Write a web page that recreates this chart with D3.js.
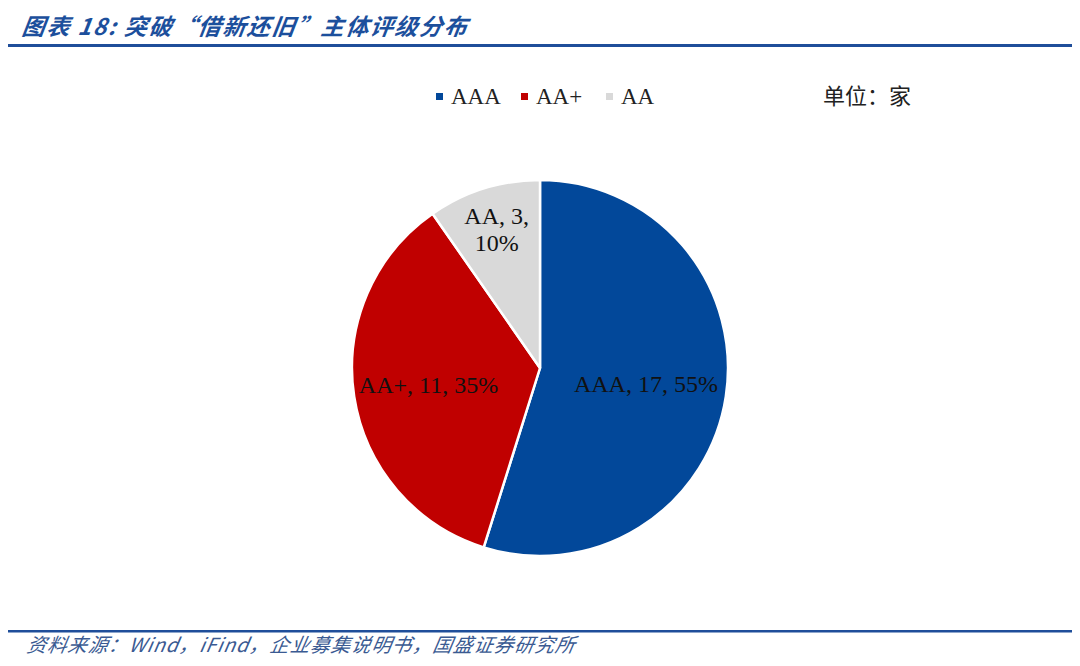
<!DOCTYPE html>
<html><head><meta charset="utf-8">
<script src="https://cdn.jsdelivr.net/npm/d3@7"></script>
<style>body{margin:0;background:#fff}svg{display:block}</style>
</head><body>
<svg id="c" width="1080" height="666"></svg>
<script>
const categories = ["AAA", "AA+", "AA"];
const values = [17, 11, 3];
const percentLabels = ["55%", "35%", "10%"];
const colors = ["#02489a", "#c00000", "#d9d9d9"];
const titleText = "图表 18:  突破“借新还旧”主体评级分布";
const unitText = "单位：家";
const sourceText = "资料来源：Wind，iFind，企业募集说明书，国盛证券研究所";

const svg = d3.select("#c");
const blue = "#1c4f9c";
const serif = "'Liberation Serif','Times New Roman','Noto Serif CJK SC','Noto Sans CJK SC',serif";

// title
svg.append("text").attr("x", 22).attr("y", 35)
  .attr("font-family", "'Noto Sans CJK SC',sans-serif").attr("font-size", 23)
  .attr("letter-spacing", 1.6)
  .attr("font-weight", "bold").attr("font-style", "italic").attr("fill", blue)
  .attr("transform", "skewX(-8) translate(4,0)")
  .text(titleText);
svg.append("rect").attr("x", 8).attr("y", 44).attr("width", 1064).attr("height", 3).attr("fill", "#1f4e9a");

// footer
svg.append("rect").attr("x", 8).attr("y", 630).attr("width", 1064).attr("height", 2.5).attr("fill", "#1f4e9a");
svg.append("text").attr("x", 26).attr("y", 652)
  .attr("font-family", "'Noto Sans CJK SC',sans-serif").attr("font-size", 19.5)
  .attr("letter-spacing", 0.9)
  .attr("font-style", "italic").attr("fill", "#3a5a92")
  .attr("transform", "skewX(-10) translate(115,0)")
  .text(sourceText);

// legend
const legendX = [436, 521, 606];
const lg = svg.append("g");
categories.forEach((c, i) => {
  lg.append("rect").attr("x", legendX[i]).attr("y", 93).attr("width", 7).attr("height", 7).attr("fill", colors[i]);
  lg.append("text").attr("x", legendX[i] + 15).attr("y", 104)
    .attr("font-family", serif).attr("font-size", 23).attr("fill", "#222").text(c);
});
svg.append("text").attr("x", 823).attr("y", 104)
  .attr("font-family", "'Noto Sans CJK SC',serif").attr("font-size", 22).attr("fill", "#222").text(unitText);

// pie
const cx = 540, cy = 368, R = 188;
const pie = d3.pie().sort(null).startAngle(0).endAngle(2 * Math.PI);
const arcs = pie(values);
const arc = d3.arc().innerRadius(0).outerRadius(R);
const g = svg.append("g").attr("transform", `translate(${cx},${cy})`);
g.selectAll("path").data(arcs).enter().append("path")
  .attr("d", arc).attr("fill", (d, i) => colors[i])
  .attr("stroke", "#fff").attr("stroke-width", 2.5).attr("stroke-linejoin", "round");

const labelR = [0.57, 0.60, 0.77];
arcs.forEach((d, i) => {
  const a = (d.startAngle + d.endAngle) / 2;
  const r = R * labelR[i];
  const x = Math.sin(a) * r, y = -Math.cos(a) * r;
  const t = g.append("text").attr("text-anchor", "middle")
    .attr("font-family", serif).attr("font-size", 24).attr("fill", "#111");
  if (i === 2) {
    t.append("tspan").attr("x", x).attr("y", y - 6).text(`${categories[i]}, ${values[i]},`);
    t.append("tspan").attr("x", x).attr("y", y + 21).text(percentLabels[i]);
  } else {
    t.attr("x", x).attr("y", y + 8).text(`${categories[i]}, ${values[i]}, ${percentLabels[i]}`);
  }
});
</script>
</body></html>
